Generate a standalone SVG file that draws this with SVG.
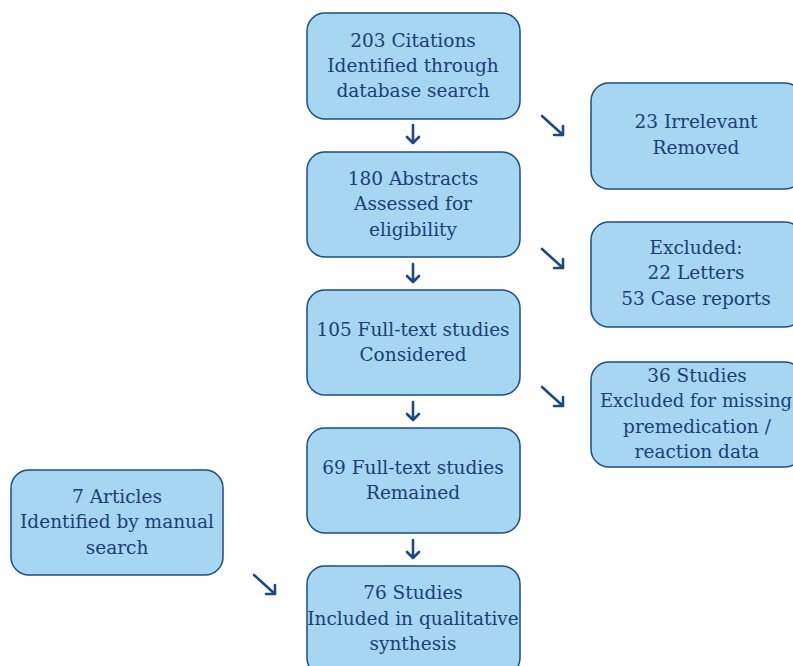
<svg xmlns="http://www.w3.org/2000/svg" width="793" height="666" viewBox="0 0 793 666">
<defs>
<style>
.box{fill:#a6d6f2;stroke:#1d4d80;stroke-width:1.5}
text{font-family:"DejaVu Serif",serif;font-size:18.5px;fill:#1b3f72;text-anchor:middle}
.c{stroke:#1b4a82;stroke-width:2.6;fill:none;stroke-linecap:round;stroke-linejoin:round}
</style>
</defs>
<rect width="793" height="666" fill="#ffffff"/>
<g id="n1"><rect class="box" x="307" y="13" width="213" height="106" rx="18"/><text x="413" y="47">203 Citations</text><text x="413" y="72">Identified through</text><text x="413" y="97">database search</text></g>
<g id="n2"><rect class="box" x="307" y="152" width="213" height="105" rx="18"/><text x="413" y="185">180 Abstracts</text><text x="413" y="210">Assessed for</text><text x="413" y="236">eligibility</text></g>
<g id="n3"><rect class="box" x="307" y="290" width="213" height="105" rx="18"/><text x="413" y="336">105 Full-text studies</text><text x="413" y="361">Considered</text></g>
<g id="n4"><rect class="box" x="307" y="428" width="213" height="105" rx="18"/><text x="413" y="474">69 Full-text studies</text><text x="413" y="499">Remained</text></g>
<g id="n5"><rect class="box" x="307" y="566" width="213" height="110" rx="18"/><text x="413" y="599">76 Studies</text><text x="413" y="625">Included in qualitative</text><text x="413" y="650">synthesis</text></g>
<g id="r1"><rect class="box" x="591" y="83" width="212" height="106" rx="18"/><text x="696" y="128">23 Irrelevant</text><text x="696" y="154">Removed</text></g>
<g id="r2"><rect class="box" x="591" y="222" width="212" height="105" rx="18"/><text x="696" y="254">Excluded:</text><text x="696" y="279">22 Letters</text><text x="696" y="305">53 Case reports</text></g>
<g id="r3"><rect class="box" x="591" y="362" width="212" height="105" rx="18"/><text x="697" y="382">36 Studies</text><text x="696" y="407" style="font-size:18px">Excluded for missing</text><text x="697" y="433">premedication /</text><text x="697" y="458">reaction data</text></g>
<g id="l1"><rect class="box" x="11" y="470" width="212" height="105" rx="18"/><text x="117" y="503">7 Articles</text><text x="117" y="528">Identified by manual</text><text x="117" y="554">search</text></g>
<g id="connectors">
<path class="c" d="M413 125V143M407 137L413 143L419 137"/>
<path class="c" d="M413 264V282M407 276L413 282L419 276"/>
<path class="c" d="M413 402V420M407 414L413 420L419 414"/>
<path class="c" d="M413 540V558M407 552L413 558L419 552"/>
<path class="c" d="M542 116L563 135M563 126L563 135L554 135"/>
<path class="c" d="M542 249L563 268M563 259L563 268L554 268"/>
<path class="c" d="M542 387L563 406M563 397L563 406L554 406"/>
<path class="c" d="M254 575L275 594M275 585L275 594L266 594"/>
</g>
</svg>
